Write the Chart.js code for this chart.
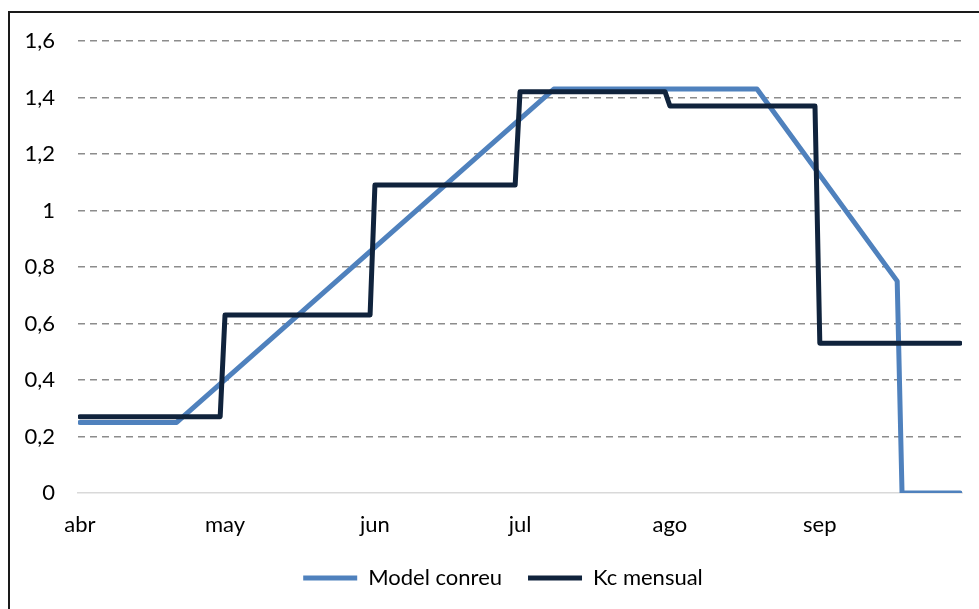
<!DOCTYPE html>
<html>
<head>
<meta charset="utf-8">
<script src="https://cdn.jsdelivr.net/npm/chart.js@4.4.0/dist/chart.umd.min.js"></script>
<style>
    body { margin: 0; background: #fff; }
    #wrap { position: relative; width: 979px; height: 609px; overflow: hidden; }
    #frame {
        position: absolute; left: 8px; top: 11px; width: 1100px; height: 800px;
        border-left: 2px solid #1a1a1a; border-top: 2px solid #1a1a1a;
        pointer-events: none;
    }
    canvas { position: absolute; left: 0; top: 0; }
</style>
</head>
<body>
<div id="wrap">
    <canvas id="kcChart" width="979" height="609"></canvas>
    <div id="frame"></div>
</div>
<script>
// days counted from 1 April
const monthTicks = [0, 30, 61, 91, 122, 153];
const monthLabels = ['abr', 'may', 'jun', 'jul', 'ago', 'sep'];

// Model conreu (crop model curve)
const modelDays = [0, 20, 98, 140, 169, 170, 182];
const modelValues = [0.25, 0.25, 1.43, 1.43, 0.75, 0, 0];

// Kc mensual (monthly steps)
const kcDays = [0, 29, 30, 60, 61, 90, 91, 121, 122, 152, 153, 182];
const kcValues = [0.27, 0.27, 0.63, 0.63, 1.09, 1.09, 1.42, 1.42, 1.37, 1.37, 0.53, 0.53];

const yTicks = [0, 0.2, 0.4, 0.6, 0.8, 1, 1.2, 1.4, 1.6];

const toPoints = (xs, ys) => xs.map((x, i) => ({ x: x, y: ys[i] }));
const fmtComma = v => String(Math.round(v * 10) / 10).replace('.', ',');

const FONT = { family: 'Lato, "Open Sans", sans-serif', size: 22 };

// legend in the original sits a little right of centre
const legendShift = {
    id: 'legendShift',
    afterLayout(chart) {
        if (chart.legend) {
            chart.legend.left += 22;
            chart.legend.right += 22;
        }
    }
};

const ctx = document.getElementById('kcChart').getContext('2d');

new Chart(ctx, {
    type: 'line',
    data: {
        datasets: [
            {
                label: 'Model conreu',
                data: toPoints(modelDays, modelValues),
                borderColor: '#4F81BD',
                backgroundColor: '#4F81BD',
                borderWidth: 5,
                pointRadius: 0,
                tension: 0,
                borderJoinStyle: 'round',
                borderCapStyle: 'round',
                order: 2
            },
            {
                label: 'Kc mensual',
                data: toPoints(kcDays, kcValues),
                borderColor: '#10233C',
                backgroundColor: '#10233C',
                borderWidth: 5,
                pointRadius: 0,
                tension: 0,
                borderJoinStyle: 'round',
                borderCapStyle: 'round',
                order: 1
            }
        ]
    },
    options: {
        responsive: false,
        devicePixelRatio: 1,
        animation: false,
        layout: {
            padding: { top: 41, right: 17, left: 0, bottom: 10 }
        },
        plugins: {
            tooltip: { enabled: false },
            legend: {
                position: 'bottom',
                labels: {
                    color: '#000',
                    font: FONT,
                    boxWidth: 54,
                    boxHeight: 5,
                    padding: 26,
                    generateLabels: chart => chart.data.datasets.map((ds, i) => ({
                        text: ds.label,
                        fillStyle: ds.borderColor,
                        strokeStyle: ds.borderColor,
                        lineWidth: 0,
                        hidden: false,
                        datasetIndex: i,
                        fontColor: '#000'
                    }))
                }
            }
        },
        scales: {
            x: {
                type: 'linear',
                min: -0.4,
                max: 182.4,
                afterBuildTicks: scale => {
                    scale.ticks = monthTicks.map(v => ({ value: v }));
                },
                afterFit: scale => { scale.height = 48; },
                ticks: {
                    autoSkip: false,
                    maxRotation: 0,
                    padding: 19,
                    color: '#000',
                    font: FONT,
                    callback: (v) => monthLabels[monthTicks.indexOf(v)]
                },
                grid: { display: false, drawTicks: false },
                border: { display: true, color: '#d9d9d9', width: 1.5 }
            },
            y: {
                min: 0,
                max: 1.6,
                afterBuildTicks: scale => {
                    scale.ticks = yTicks.map(v => ({ value: v }));
                },
                afterFit: scale => { scale.width = 78; },
                ticks: {
                    padding: 23,
                    color: '#000',
                    font: FONT,
                    callback: v => fmtComma(v)
                },
                grid: {
                    drawTicks: false,
                    lineWidth: 1.5,
                    color: c => (c.tick && c.tick.value === 0) ? 'rgba(0,0,0,0)' : '#8c8c8c'
                },
                border: { display: false, dash: [7, 5] }
            }
        }
    },
    plugins: [legendShift]
});
</script>
</body>
</html>
